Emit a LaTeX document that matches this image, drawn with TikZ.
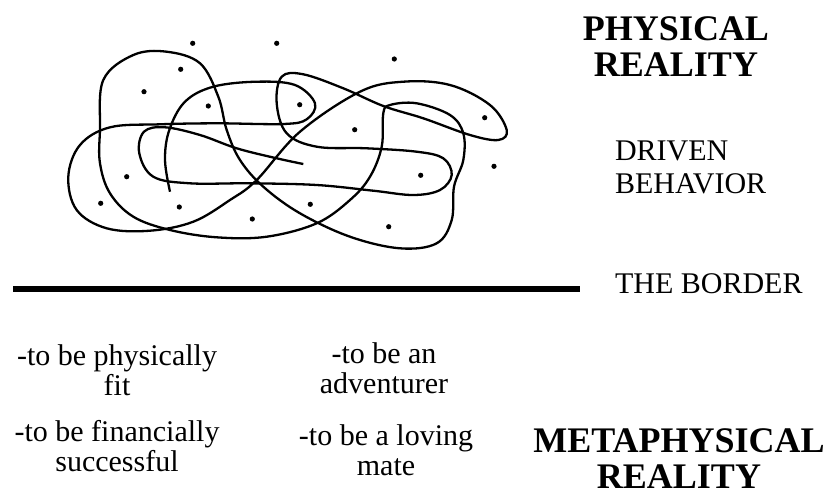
\documentclass[tikz,border=0pt]{standalone}
\usepackage{fontspec}
\setmainfont{Liberation Serif}

\begin{document}
\begin{tikzpicture}[x=0.5pt,y=-0.5pt,grain/.style={circle,fill=black,minimum size=2.6pt,inner sep=0pt},strand/.style={line width=1.15pt,line join=round},title/.style={font=\fontsize{18}{18}\selectfont\bfseries,align=center,anchor=base},caption/.style={font=\fontsize{15}{16.5}\selectfont,align=left,anchor=base west},wish/.style={font=\fontsize{15}{15}\selectfont,align=center,anchor=base}]
\useasboundingbox (0,0) rectangle (830,488);
% the tangle above the border
\draw[strand] plot[smooth cycle,tension=0.6] coordinates {(100,130) (103.3,80) (133.3,55) (166.7,51.7) (200,63.3) (218.3,96.7) (226.7,130) (240,160) (263.3,186.7) (300,213.3) (350,236.7) (400,248.3) (436.7,243.3) (451.7,220) (454,186.7) (463.3,160) (463.3,133.3) (450,115) (416.7,103.3) (390,105) (383.3,113.3) (381.7,146.7) (370,176.7) (350,200) (316.7,223.3) (266.7,236.7) (216.7,237.3) (170,230) (133.3,216.7) (110,193.3) (100,163.3)};
\draw[strand] plot[smooth,tension=0.6] coordinates {(170,191.7) (165,160) (169.3,130) (185,101.7) (213.3,86.7) (256.7,81.7) (295,85) (315,103.3) (306.7,119.3) (283.3,124) (216.7,123.3) (160,124.3) (110,127.3) (80,145) (68.3,176.7) (76.7,210) (106.7,228.3) (150,230.7) (193.3,221.7) (230,200) (256.7,180) (300,131.7) (360,91.7) (403.3,81.7) (450,85) (490,105) (506.7,130) (498.3,140) (470,135) (423.3,118.3) (383.3,106) (343.3,88.3) (303.3,74.3) (281.7,76.7) (276.7,103.3) (286.7,133.3) (316.7,146.7) (366.7,148.3) (416.7,151.7) (443.3,158.3) (451.7,175) (440,190) (413.3,195) (373.3,190.7) (316.7,185) (250,183.3) (190,183.3) (153.3,176.7) (139.3,153.3) (144,131.7) (165,127.3) (200,135) (236.7,148.3) (276.7,158.3) (303.3,164)};
\node[grain] (g1) at (192.7,43.3) {};
\node[grain] (g2) at (276.7,43.3) {};
\node[grain] (g3) at (394.3,59) {};
\node[grain] (g4) at (180.7,69.3) {};
\node[grain] (g5) at (144,91.7) {};
\node[grain] (g6) at (208.3,106) {};
\node[grain] (g7) at (299.7,104.7) {};
\node[grain] (g8) at (484.7,117.7) {};
\node[grain] (g9) at (354.7,129.7) {};
\node[grain] (g10) at (494,166.3) {};
\node[grain] (g11) at (126.7,176.7) {};
\node[grain] (g12) at (420.7,175.3) {};
\node[grain] (g13) at (100.7,203.3) {};
\node[grain] (g14) at (179.3,207) {};
\node[grain] (g15) at (310.3,204.3) {};
\node[grain] (g16) at (252.3,219) {};
\node[grain] (g17) at (388.7,226.7) {};
% the border
\coordinate (borderL) at (13,289);
\coordinate (borderR) at (580,289);
\draw[line width=3pt] (borderL) -- (borderR);
% labels (base = baseline of the last line)
\node[title] (physical) at (676,76) {PHYSICAL\\REALITY};
\node[caption] (driven) at (608,193) {DRIVEN\\BEHAVIOR};
\node[caption] (border) at (608,293) {THE BORDER};
\node[title] (metaphysical) at (679,488) {METAPHYSICAL\\REALITY};
\node[wish] (fit) at (117,395) {-to be physically\\fit};
\node[wish] (rich) at (117,471) {-to be financially\\successful};
\node[wish] (adventure) at (384,393) {-to be an\\adventurer};
\node[wish] (mate) at (386,475) {-to be a loving\\mate};
\end{tikzpicture}
\end{document}
